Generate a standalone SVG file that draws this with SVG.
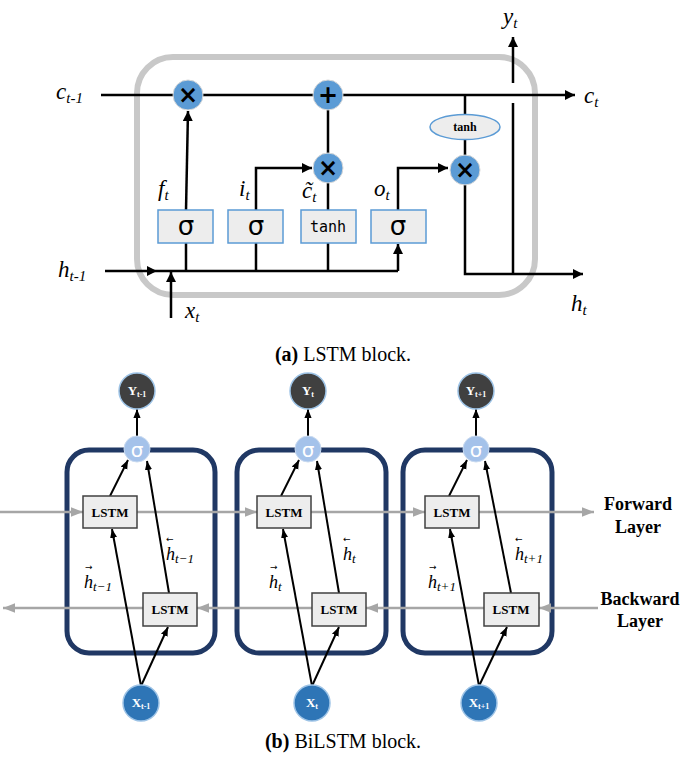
<svg xmlns="http://www.w3.org/2000/svg" width="685" height="761" viewBox="0 0 685 761">
<defs>
<marker id="ab" viewBox="0 0 10 10" refX="10" refY="5" markerWidth="10" markerHeight="10" markerUnits="userSpaceOnUse" orient="auto"><path d="M0,0 L10,5 L0,10 z" fill="#000"/></marker>
<marker id="ab2" viewBox="0 0 10 10" refX="10" refY="5" markerWidth="9" markerHeight="9" markerUnits="userSpaceOnUse" orient="auto"><path d="M0,1 L10,5 L0,9 z" fill="#000"/></marker>
<marker id="ag" viewBox="0 0 10 10" refX="10" refY="5" markerWidth="14" markerHeight="12" markerUnits="userSpaceOnUse" orient="auto"><path d="M0,1 L10,5 L0,9 z" fill="#a6a6a6"/></marker>
</defs>
<style>
.ln{stroke:#000;stroke-width:2.5;fill:none}
.ln2{stroke:#000;stroke-width:2;fill:none}
.gl{stroke:#a6a6a6;stroke-width:2.5;fill:none}
.op{fill:#5b9bd5;stroke:#d9d9d9;stroke-width:1}
.opt{font-family:"DejaVu Sans",sans-serif;font-weight:bold;font-size:24px;fill:#000;text-anchor:middle}
.gate{fill:#ededed;stroke:#5b9bd5;stroke-width:1.5}
.sig{font-family:"DejaVu Sans",sans-serif;font-size:26px;fill:#000;text-anchor:middle}
.it{font-family:"Liberation Serif",serif;font-style:italic;font-size:23px;fill:#000}
.sub{font-size:15px}
.cap{font-family:"Liberation Serif",serif;font-size:20px;fill:#000;text-anchor:middle}
.nav{fill:none;stroke:#203864;stroke-width:5}
.lstm{fill:#ededed;stroke:#404040;stroke-width:1.5}
.lt{font-family:"Liberation Serif",serif;font-weight:bold;font-size:13px;fill:#000;text-anchor:middle}
.lay{font-family:"Liberation Serif",serif;font-weight:bold;font-size:18px;fill:#000;text-anchor:middle}
.yc{fill:#404040;stroke:#9dc3e6;stroke-width:1.5}
.sc{fill:#a4c2ea;stroke:#c9daf0;stroke-width:1}
.xc{fill:#2e75b6;stroke:#9dc3e6;stroke-width:1.5}
.wt{font-family:"Liberation Serif",serif;font-weight:bold;font-size:13px;fill:#fff;text-anchor:middle}
.hl{font-family:"Liberation Serif",serif;font-style:italic;font-size:18px;fill:#000}
.ar{font-family:"DejaVu Sans",sans-serif;font-size:9px;fill:#000}
</style>

<!-- (a) LSTM block -->
<rect id="cell" x="137" y="57" width="398" height="238" rx="36" fill="none" stroke="#c8c8c8" stroke-width="6"/>

<g id="connectors-a">
<line class="ln" x1="101" y1="95" x2="575" y2="95" marker-end="url(#ab)"/>
<line class="ln" x1="186" y1="210" x2="188" y2="111" marker-end="url(#ab)"/>
<polyline class="ln" points="256,210 256,168 312,168" marker-end="url(#ab)"/>
<line class="ln" x1="328" y1="210" x2="328" y2="183"/>
<line class="ln" x1="328" y1="153" x2="328" y2="110"/>
<polyline class="ln" points="398,210 398,168 448,168" marker-end="url(#ab)"/>
<line class="ln" x1="465" y1="95" x2="465" y2="114"/>
<line class="ln" x1="465" y1="140" x2="465" y2="155"/>
<line class="ln" x1="105" y1="271" x2="157" y2="271" marker-end="url(#ab)"/>
<line class="ln" x1="157" y1="271" x2="398" y2="271"/>
<line class="ln" x1="398" y1="271" x2="398" y2="244" marker-end="url(#ab)"/>
<line class="ln" x1="171" y1="318" x2="171" y2="272" marker-end="url(#ab)"/>
<line class="ln" x1="186" y1="243" x2="186" y2="271"/>
<line class="ln" x1="256" y1="243" x2="256" y2="271"/>
<line class="ln" x1="328" y1="243" x2="328" y2="271"/>
<polyline class="ln" points="465,185 465,274 583,274" marker-end="url(#ab)"/>
<line class="ln" x1="513" y1="274" x2="513" y2="103"/>
<line class="ln" x1="513" y1="83" x2="513" y2="37" marker-end="url(#ab)"/>
</g>

<g id="mul-f"><circle class="op" cx="188" cy="95" r="15"/><text class="opt" x="188" y="103">×</text></g>
<g id="add-c"><circle class="op" cx="328" cy="95" r="15"/><text class="opt" x="328" y="103">+</text></g>
<g id="mul-i"><circle class="op" cx="328" cy="168" r="15"/><text class="opt" x="328" y="176">×</text></g>
<g id="mul-o"><circle class="op" cx="465" cy="170" r="15"/><text class="opt" x="465" y="178">×</text></g>
<g id="tanh-c"><ellipse cx="465" cy="127" rx="35" ry="12.5" fill="#ededed" stroke="#5b9bd5" stroke-width="1.5"/><text x="465" y="131" font-family="Liberation Serif,serif" font-weight="bold" font-size="12" text-anchor="middle">tanh</text></g>
<g id="gate-f"><rect class="gate" x="158" y="210" width="55" height="33"/><text class="sig" x="186" y="235">σ</text></g>
<g id="gate-i"><rect class="gate" x="228" y="210" width="55" height="33"/><text class="sig" x="256" y="235">σ</text></g>
<g id="gate-g"><rect class="gate" x="301" y="210" width="55" height="33"/><text x="328" y="232" font-family="DejaVu Sans Mono,monospace" font-size="15" text-anchor="middle">tanh</text></g>
<g id="gate-o"><rect class="gate" x="371" y="210" width="55" height="33"/><text class="sig" x="398" y="235">σ</text></g>

<g id="labels-a">
<text class="it" x="56" y="99">c<tspan class="sub" dy="4">t-1</tspan></text>
<text class="it" x="584" y="103">c<tspan class="sub" dy="4">t</tspan></text>
<text class="it" x="503" y="24">y<tspan class="sub" dy="4">t</tspan></text>
<text class="it" x="58" y="277">h<tspan class="sub" dy="4">t-1</tspan></text>
<text class="it" x="185" y="318">x<tspan class="sub" dy="4">t</tspan></text>
<text class="it" x="571" y="311">h<tspan class="sub" dy="4">t</tspan></text>
<text class="it" x="158" y="196">f<tspan class="sub" dy="4">t</tspan></text>
<text class="it" x="239" y="196">i<tspan class="sub" dy="4">t</tspan></text>
<text class="it" x="302" y="198" font-size="20">c&#x303;<tspan class="sub" dy="4">t</tspan></text>
<text class="it" x="374" y="196">o<tspan class="sub" dy="4">t</tspan></text>
</g>
<text class="cap" x="343" y="361"><tspan font-weight="bold">(a)</tspan>  LSTM block.</text>

<!-- (b) BiLSTM block -->
<g id="cell1"><rect class="nav" x="67" y="450" width="148" height="203" rx="22"/></g>
<g id="cell2"><rect class="nav" x="237" y="450" width="149" height="203" rx="22"/></g>
<g id="cell3"><rect class="nav" x="403" y="450" width="149" height="203" rx="22"/></g>

<g id="connectors-b">
<line class="gl" x1="0" y1="512" x2="83" y2="512" marker-end="url(#ag)"/>
<line class="gl" x1="137" y1="512" x2="257" y2="512" marker-end="url(#ag)"/>
<line class="gl" x1="311" y1="512" x2="425" y2="512" marker-end="url(#ag)"/>
<line class="gl" x1="479" y1="512" x2="594" y2="512" marker-end="url(#ag)"/>
<line class="gl" x1="598" y1="608" x2="539" y2="608" marker-end="url(#ag)"/>
<line class="gl" x1="484" y1="608" x2="366" y2="608" marker-end="url(#ag)"/>
<line class="gl" x1="312" y1="608" x2="197" y2="608" marker-end="url(#ag)"/>
<line class="gl" x1="143" y1="608" x2="3" y2="608" marker-end="url(#ag)"/>

<line class="ln2" x1="137" y1="436" x2="137" y2="409" marker-end="url(#ab2)"/>
<line class="ln2" x1="308" y1="436" x2="308" y2="409" marker-end="url(#ab2)"/>
<line class="ln2" x1="476" y1="436" x2="476" y2="409" marker-end="url(#ab2)"/>

<line class="ln2" x1="110" y1="496" x2="128" y2="460" marker-end="url(#ab2)"/>
<line class="ln2" x1="169" y1="593" x2="147" y2="461" marker-end="url(#ab2)"/>
<line class="ln2" x1="141" y1="686" x2="112" y2="529" marker-end="url(#ab2)"/>
<line class="ln2" x1="141" y1="686" x2="168" y2="627" marker-end="url(#ab2)"/>

<line class="ln2" x1="281" y1="496" x2="299" y2="460" marker-end="url(#ab2)"/>
<line class="ln2" x1="339" y1="593" x2="317" y2="461" marker-end="url(#ab2)"/>
<line class="ln2" x1="312" y1="686" x2="283" y2="529" marker-end="url(#ab2)"/>
<line class="ln2" x1="312" y1="686" x2="339" y2="627" marker-end="url(#ab2)"/>

<line class="ln2" x1="449" y1="496" x2="467" y2="460" marker-end="url(#ab2)"/>
<line class="ln2" x1="511" y1="593" x2="485" y2="461" marker-end="url(#ab2)"/>
<line class="ln2" x1="479" y1="686" x2="450" y2="529" marker-end="url(#ab2)"/>
<line class="ln2" x1="479" y1="686" x2="507" y2="627" marker-end="url(#ab2)"/>
</g>

<g id="fw1"><rect class="lstm" x="83" y="496" width="54" height="32"/><text class="lt" x="110" y="517">LSTM</text></g>
<g id="fw2"><rect class="lstm" x="257" y="496" width="54" height="32"/><text class="lt" x="284" y="517">LSTM</text></g>
<g id="fw3"><rect class="lstm" x="425" y="496" width="54" height="32"/><text class="lt" x="452" y="517">LSTM</text></g>
<g id="bw1"><rect class="lstm" x="143" y="593" width="54" height="33"/><text class="lt" x="170" y="614">LSTM</text></g>
<g id="bw2"><rect class="lstm" x="312" y="593" width="54" height="33"/><text class="lt" x="339" y="614">LSTM</text></g>
<g id="bw3"><rect class="lstm" x="484" y="593" width="55" height="33"/><text class="lt" x="511" y="614">LSTM</text></g>

<g id="sig1"><circle class="sc" cx="137" cy="449" r="13"/><text x="137" y="457" font-family="DejaVu Sans,sans-serif" font-size="20" fill="#fff" text-anchor="middle">σ</text></g>
<g id="sig2"><circle class="sc" cx="308" cy="449" r="13"/><text x="308" y="457" font-family="DejaVu Sans,sans-serif" font-size="20" fill="#fff" text-anchor="middle">σ</text></g>
<g id="sig3"><circle class="sc" cx="476" cy="449" r="13"/><text x="476" y="457" font-family="DejaVu Sans,sans-serif" font-size="20" fill="#fff" text-anchor="middle">σ</text></g>

<g id="y1"><circle class="yc" cx="137" cy="391" r="18"/><text class="wt" x="137" y="395">Y<tspan font-size="8" dy="2">t-1</tspan></text></g>
<g id="y2"><circle class="yc" cx="308" cy="391" r="18"/><text class="wt" x="308" y="395">Y<tspan font-size="8" dy="2">t</tspan></text></g>
<g id="y3"><circle class="yc" cx="476" cy="391" r="18"/><text class="wt" x="476" y="395">Y<tspan font-size="8" dy="2">t+1</tspan></text></g>

<g id="x1"><circle class="xc" cx="141" cy="703" r="18"/><text class="wt" x="141" y="707">X<tspan font-size="8" dy="2">t-1</tspan></text></g>
<g id="x2"><circle class="xc" cx="312" cy="703" r="18"/><text class="wt" x="312" y="707">X<tspan font-size="8" dy="2">t</tspan></text></g>
<g id="x3"><circle class="xc" cx="479" cy="703" r="18"/><text class="wt" x="479" y="707">X<tspan font-size="8" dy="2">t+1</tspan></text></g>

<g id="labels-b">
<text class="hl" x="84" y="588">h<tspan font-size="13" dy="3">t−1</tspan></text>
<text class="ar" x="85" y="570">→</text>
<text class="hl" x="166" y="560">h<tspan font-size="13" dy="3">t−1</tspan></text>
<text class="ar" x="166" y="542">←</text>
<text class="hl" x="269" y="588">h<tspan font-size="13" dy="3">t</tspan></text>
<text class="ar" x="270" y="570">→</text>
<text class="hl" x="343" y="560">h<tspan font-size="13" dy="3">t</tspan></text>
<text class="ar" x="343" y="542">←</text>
<text class="hl" x="428" y="588">h<tspan font-size="13" dy="3">t+1</tspan></text>
<text class="ar" x="429" y="570">→</text>
<text class="hl" x="515" y="560">h<tspan font-size="13" dy="3">t+1</tspan></text>
<text class="ar" x="515" y="542">←</text>
</g>

<g id="layer-labels">
<text class="lay" x="638" y="510">Forward</text>
<text class="lay" x="638" y="533">Layer</text>
<text class="lay" x="640" y="605">Backward</text>
<text class="lay" x="640" y="627">Layer</text>
</g>
<text class="cap" x="343" y="748"><tspan font-weight="bold">(b)</tspan>  BiLSTM block.</text>
</svg>
